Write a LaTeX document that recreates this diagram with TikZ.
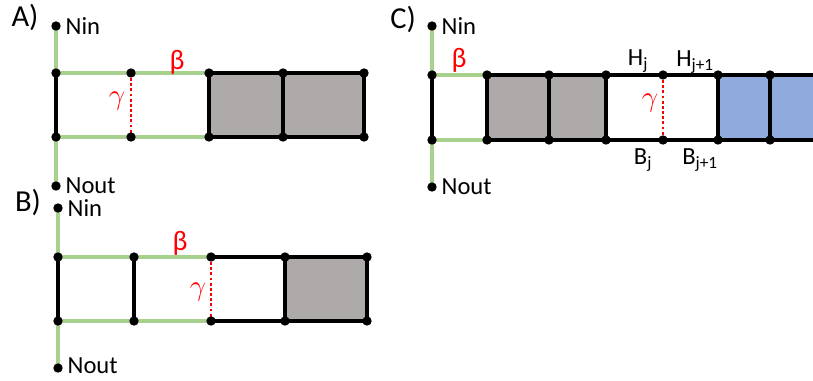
\documentclass[tikz,border=0pt]{standalone}
\usepackage{fontspec}
\setmainfont{Carlito}
\usetikzlibrary{positioning}
\definecolor{wire}{HTML}{A9D18E}
\definecolor{cellgray}{HTML}{AEAAAA}
\definecolor{cellblue}{HTML}{8FAADC}
\tikzset{
  wireline/.style={wire, line width=2.6pt},
  bar/.style={black, line width=2.8pt},
  gap/.style={red, dotted, line width=2.4pt},
  dot/.style={circle, fill=black, inner sep=0pt, minimum size=8pt},
  lbl/.style={font=\fontsize{21}{25}\selectfont, inner sep=0pt},
  tag/.style={font=\fontsize{26}{30}\selectfont, inner sep=0pt},
  greek/.style={red, font=\fontsize{24}{28}\selectfont, inner sep=0pt}
}
\begin{document}
\begin{tikzpicture}[x=0.03cm, y=-0.03cm]
\useasboundingbox (0,0) rectangle (813,380);
% panel A
\coordinate (a-in) at (56,26);
\coordinate (a-out) at (56,186);
\foreach \i/\x in {1/56,2/131,3/209,4/283,5/364} {
  \coordinate (a-t\i) at (\x,73);
  \coordinate (a-b\i) at (\x,137);
}
\fill[cellgray] (a-t3) rectangle (a-b5);
\draw[wireline] (a-in) -- (a-t1) -- (a-t3);
\draw[wireline] (a-out) -- (a-b1) -- (a-b3);
\draw[bar] (a-t1) -- (a-b1);
\draw[bar] (a-t3) -- (a-t5) -- (a-b5) -- (a-b3) -- cycle;
\draw[bar] (a-t4) -- (a-b4);
\draw[gap] (a-t2) -- (a-b2);
\foreach \p in {a-in,a-out,a-t1,a-t2,a-t3,a-t4,a-t5,a-b1,a-b2,a-b3,a-b4,a-b5}
  \node[dot] at (\p) {};
\node[tag] (a-tag) at (25,17) {A)};
\node[lbl, right=8pt of a-in] (a-nin) {Nin};
\node[lbl, right=8pt of a-out] (a-nout) {Nout};
\node[greek] (a-beta) at (177,62) {β};
\node[greek] (a-gamma) at (117,101) {$\gamma$};

% panel B
\coordinate (b-in) at (58,208);
\coordinate (b-out) at (58,368);
\foreach \i/\x in {1/58,2/134,3/211,4/285,5/367} {
  \coordinate (b-t\i) at (\x,257);
  \coordinate (b-b\i) at (\x,321);
}
\fill[cellgray] (b-t4) rectangle (b-b5);
\draw[wireline] (b-in) -- (b-t1) -- (b-t3);
\draw[wireline] (b-out) -- (b-b1) -- (b-b3);
\draw[bar] (b-t1) -- (b-b1);
\draw[bar] (b-t2) -- (b-b2);
\draw[bar] (b-t3) -- (b-t5) -- (b-b5) -- (b-b3);
\draw[bar] (b-t4) -- (b-b4);
\draw[gap] (b-t3) -- (b-b3);
\foreach \p in {b-in,b-out,b-t1,b-t2,b-t3,b-t4,b-t5,b-b1,b-b2,b-b3,b-b4,b-b5}
  \node[dot] at (\p) {};
\node[tag] (b-tag) at (28,202) {B)};
\node[lbl, right=8pt of b-in] (b-nin) {Nin};
\node[lbl, right=8pt of b-out, yshift=2pt] (b-nout) {Nout};
\node[greek] (b-beta) at (180,243) {β};
\node[greek] (b-gamma) at (198,292) {$\gamma$};

% panel C
\coordinate (c-in) at (432,26);
\coordinate (c-out) at (432,187);
\foreach \i/\x in {1/432,2/487,3/549,4/606,5/663,6/718,7/770,8/820} {
  \coordinate (c-t\i) at (\x,75);
  \coordinate (c-b\i) at (\x,140);
}
\fill[cellgray] (c-t2) rectangle (c-b4);
\fill[cellblue] (c-t6) rectangle (c-b8);
\draw[wireline] (c-in) -- (c-t1) -- (c-t2);
\draw[wireline] (c-out) -- (c-b1) -- (c-b2);
\draw[bar] (c-t1) -- (c-b1);
\draw[bar] (c-t2) -- (c-t8);
\draw[bar] (c-b2) -- (c-b8);
\foreach \i in {2,3,4,6,7}
  \draw[bar] (c-t\i) -- (c-b\i);
\draw[gap] (c-t5) -- (c-b5);
\foreach \p in {c-in,c-out,c-t1,c-t2,c-t3,c-t4,c-t5,c-t6,c-t7,c-b1,c-b2,c-b3,c-b4,c-b5,c-b6,c-b7}
  \node[dot] at (\p) {};
\node[tag] (c-tag) at (403,19) {C)};
\node[lbl, right=8pt of c-in] (c-nin) {Nin};
\node[lbl, right=8pt of c-out] (c-nout) {Nout};
\node[greek] (c-beta) at (459,60) {β};
\node[greek] (c-gamma) at (650,103) {$\gamma$};
\node[lbl] (c-hj) at (638,61) {H\textsubscript{j}};
\node[lbl] (c-hj1) at (695,62) {H\textsubscript{j+1}};
\node[lbl] (c-bj) at (643,160) {B\textsubscript{j}};
\node[lbl] (c-bj1) at (700,160) {B\textsubscript{j+1}};
\end{tikzpicture}
\end{document}
